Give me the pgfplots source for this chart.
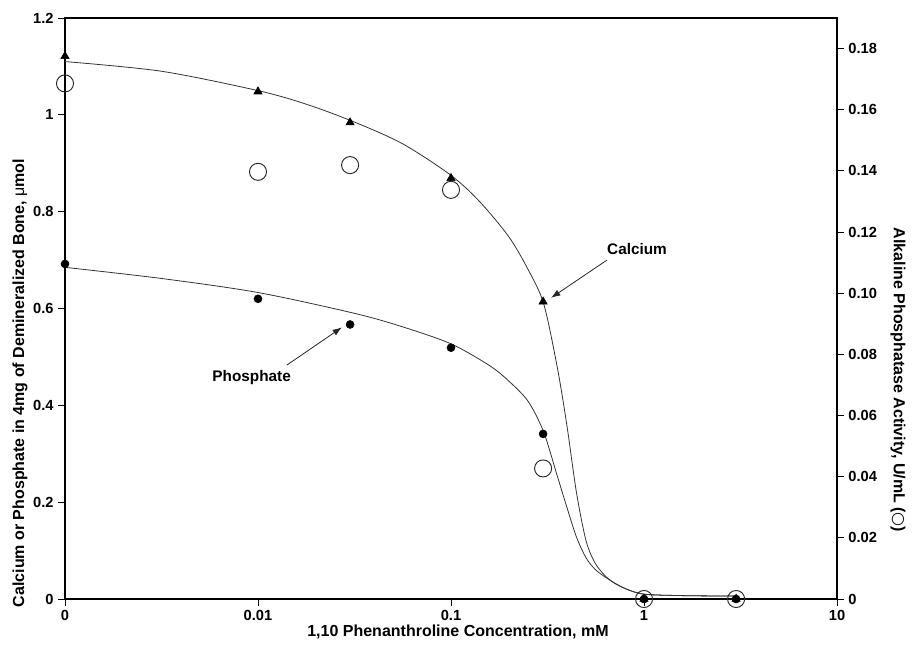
\documentclass[border=0pt]{standalone}
\usepackage{fontspec}
\setmainfont{Liberation Sans}
\newfontfamily\dejavu{DejaVu Sans}
\usepackage{pgfplots}
\pgfplotsset{compat=1.18}
\usetikzlibrary{arrows.meta}

\begin{document}
\begin{tikzpicture}
\path[use as bounding box] (-48.75pt,-35.25pt) rectangle (635.25pt,449.25pt);
\begin{axis}[
 at={(0pt,0pt)}, anchor=south west, scale only axis, width=579pt, height=435.75pt,
 xmode=log, xmin=0.001, xmax=10, ymin=0, ymax=1.2,
 xtick={0.001,0.01,0.1,1,10}, xticklabels={0,0.01,0.1,1,10},
 ytick={0,0.2,0.4,0.6,0.8,1,1.2}, yticklabels={0,0.2,0.4,0.6,0.8,1,1.2},
 xminorticks=false, yminorticks=false,
 tick align=outside, xtick pos=left, ytick pos=left,
 major tick length=5pt,
 ticklabel style={font=\bfseries\fontsize{11}{13}\selectfont},
 axis line style={line width=1.1pt},
 tick style={line width=0.6pt, black},
 clip=false,
]
% Calcium fitted curve
\addplot[smooth, tension=0.5, line width=0.6pt, black!80] coordinates {
 (0.001,1.110) (0.003162,1.090) (0.01,1.050) (0.01778,1.022) (0.03162,0.985)
 (0.05623,0.940) (0.1,0.875) (0.1413,0.820) (0.1995,0.748) (0.2512,0.680)
 (0.3020,0.610) (0.3548,0.480) (0.3981,0.360) (0.4467,0.220) (0.5012,0.120)
 (0.5623,0.072) (0.6607,0.040) (0.7943,0.022) (1,0.010) (1.585,0.007) (3,0.006)
};
% Phosphate fitted curve
\addplot[smooth, tension=0.5, line width=0.6pt, black!80] coordinates {
 (0.001,0.685) (0.003162,0.662) (0.01,0.633) (0.03162,0.590) (0.05623,0.562)
 (0.1,0.527) (0.1585,0.482) (0.1995,0.450) (0.2512,0.408) (0.3020,0.345)
 (0.3548,0.255) (0.3981,0.190) (0.4467,0.128) (0.5012,0.085) (0.5623,0.060)
 (0.6607,0.040) (0.7943,0.022) (1,0.010) (1.585,0.007) (3,0.006)
};
% Calcium data
\addplot[only marks, mark=triangle*, mark size=3.6pt, black] coordinates {
 (0.001,1.121) (0.01,1.048) (0.03,0.984) (0.1,0.869) (0.3,0.614) (1,0) (3,0)
};
% Phosphate data
\addplot[only marks, mark=*, mark size=3pt, black] coordinates {
 (0.001,0.692) (0.01,0.620) (0.03,0.567) (0.1,0.519) (0.3,0.341) (1,0) (3,0)
};
% annotations
\node[font=\bfseries\fontsize{11.5}{13}\selectfont] at (axis cs:0.92,0.723) {Calcium};
\draw[-{Latex[length=7pt,width=5pt]}, line width=0.6pt, black!85] (axis cs:0.643,0.700) -- (axis cs:0.330,0.622);
\node[font=\bfseries\fontsize{11.5}{13}\selectfont] at (axis cs:0.00927,0.457) {Phosphate};
\draw[-{Latex[length=7pt,width=5pt]}, line width=0.6pt, black!85] (axis cs:0.0141,0.483) -- (axis cs:0.0272,0.561);
\end{axis}
\begin{axis}[
 at={(0pt,0pt)}, anchor=south west, scale only axis, width=579pt, height=435.75pt,
 xmode=log, xmin=0.001, xmax=10, ymin=0, ymax=0.19,
 axis x line=none, axis y line*=right,
 ytick={0,0.02,0.04,0.06,0.08,0.10,0.12,0.14,0.16,0.18},
 yticklabels={0,0.02,0.04,0.06,0.08,0.10,0.12,0.14,0.16,0.18},
 yminorticks=false, xminorticks=false,
 tick align=outside, major tick length=5pt,
 ticklabel style={font=\bfseries\fontsize{11}{13}\selectfont},
 axis line style={line width=1.1pt, -},
 tick style={line width=0.6pt, black},
 clip=false,
]
% Alkaline phosphatase activity (open circles)
\addplot[only marks, mark=o, mark size=6.4pt, line width=0.7pt, black!85] coordinates {
 (0.001,0.1686) (0.01,0.1397) (0.03,0.1419) (0.1,0.1338) (0.3,0.0427) (1,0) (3,0)
};
\end{axis}
\node[font=\bfseries\fontsize{12}{14}\selectfont] at (294.75pt,-24.75pt) {1,10 Phenanthroline Concentration, mM};
\node[font=\bfseries\fontsize{12}{14}\selectfont, rotate=90] at (-33.75pt,162pt) {Calcium or Phosphate in 4mg of Demineralized Bone, \mdseries μ\bfseries mol};
\node[font=\bfseries\fontsize{12}{14}\selectfont, rotate=-90] at (624.75pt,164.25pt) {Alkaline Phosphatase Activity, U/mL ({\mdseries\dejavu ○})};
\end{tikzpicture}
\end{document}
